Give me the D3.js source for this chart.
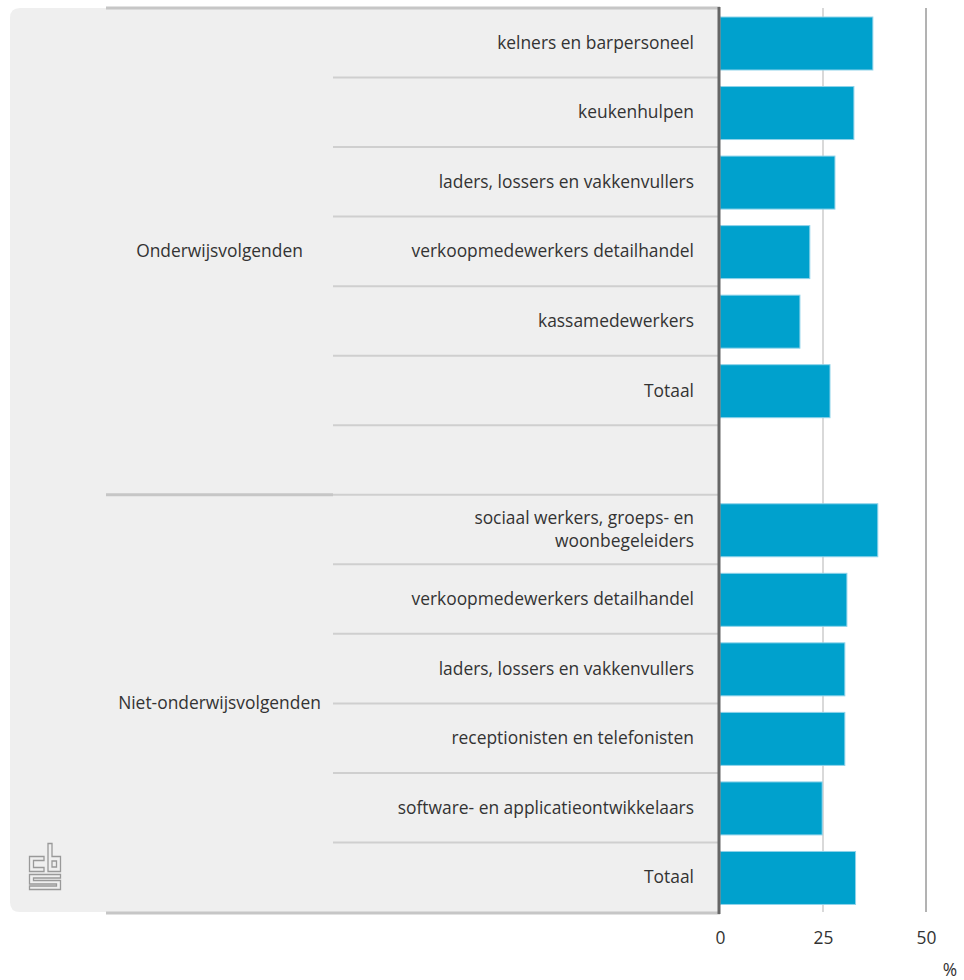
<!DOCTYPE html>
<html><head><meta charset="utf-8">
<script src="https://cdn.jsdelivr.net/npm/d3@7"></script>
<style>body{margin:0;background:#fff;} text{font-family:"Open Sans", "Noto Sans", sans-serif;}</style>
</head><body>
<svg id="chart" width="964" height="980"></svg>
<script>
const groups = ["Onderwijsvolgenden", "Niet-onderwijsvolgenden"];
const categories1 = ["kelners en barpersoneel", "keukenhulpen", "laders, lossers en vakkenvullers", "verkoopmedewerkers detailhandel", "kassamedewerkers", "Totaal"];
const values1 = [37.1, 32.5, 27.9, 21.8, 19.4, 26.7];
const categories2 = ["sociaal werkers, groeps- en woonbegeleiders", "verkoopmedewerkers detailhandel", "laders, lossers en vakkenvullers", "receptionisten en telefonisten", "software- en applicatieontwikkelaars", "Totaal"];
const values2 = [38.3, 30.8, 30.3, 30.3, 24.8, 32.9];
const ticks = [0, 25, 50];
const unitLabel = "%";

(function () {
const svg = d3.select("#chart");
const T = 8, B = 912, axisX = 720, panelLeft = 10, groupColL = 106, catColL = 333;
const FONT = 17.4, TXT = "#333";

const rows = [];
categories1.forEach((c, i) => rows.push({key: "a" + i, group: 0, label: c, value: values1[i]}));
rows.push({key: "gap", group: 0, label: null, value: null});
categories2.forEach((c, i) => rows.push({key: "b" + i, group: 1, label: c, value: values2[i]}));

const y = d3.scaleBand().domain(rows.map(r => r.key)).range([T, B]).paddingInner(0).paddingOuter(0);
const x = d3.scaleLinear().domain([0, 50]).range([axisX, 926]);

// panel
svg.append("path")
  .attr("d", `M${axisX},${T} L${panelLeft+10},${T} Q${panelLeft},${T} ${panelLeft},${T+10} L${panelLeft},${B-10} Q${panelLeft},${B} ${panelLeft+10},${B} L${axisX},${B} Z`)
  .attr("fill", "#efefef");

// gridlines
svg.append("line").attr("x1", x(25)).attr("x2", x(25)).attr("y1", T).attr("y2", B).attr("stroke", "#b3b3b3").attr("stroke-width", 1);
svg.append("line").attr("x1", x(50)).attr("x2", x(50)).attr("y1", T).attr("y2", B).attr("stroke", "#666").attr("stroke-width", 1);

// row separators
rows.forEach((r, i) => {
  if (i === 0) return;
  const yy = y(r.key);
  if (r.key === "b0") {
    svg.append("line").attr("x1", groupColL).attr("x2", catColL).attr("y1", yy).attr("y2", yy).attr("stroke", "#c6c6c6").attr("stroke-width", 3);
  }
  svg.append("line").attr("x1", catColL).attr("x2", axisX).attr("y1", yy).attr("y2", yy).attr("stroke", "#cfcfcf").attr("stroke-width", 2);
});
// top and bottom lines
svg.append("line").attr("x1", groupColL).attr("x2", axisX).attr("y1", T).attr("y2", T).attr("stroke", "#c6c6c6").attr("stroke-width", 3);
svg.append("line").attr("x1", groupColL).attr("x2", axisX).attr("y1", B+1).attr("y2", B+1).attr("stroke", "#c6c6c6").attr("stroke-width", 3);

// bars
const barPadTop = 9, barH = 53;
svg.append("g").selectAll("rect").data(rows.filter(r => r.value !== null)).join("rect")
  .attr("x", x(0))
  .attr("y", d => y(d.key) + barPadTop)
  .attr("width", d => x(d.value) - x(0))
  .attr("height", barH)
  .attr("fill", "#00a1cd")
  .attr("stroke", "#8fd3ea")
  .attr("stroke-width", 1);

// axis line
svg.append("line").attr("x1", axisX - 1).attr("x2", axisX - 1).attr("y1", T - 1).attr("y2", B + 2).attr("stroke", "#666").attr("stroke-width", 3);

// category labels
const labelX = 694;
const lab = svg.append("g").attr("font-size", FONT).attr("fill", TXT).attr("text-anchor", "end");
rows.filter(r => r.label).forEach(r => {
  const cy = y(r.key) + y.bandwidth() / 2;
  if (r.key === "b0") {
    const t = lab.append("text").attr("x", labelX).attr("y", cy);
    t.append("tspan").attr("x", labelX).attr("dy", "-0.3em").text("sociaal werkers, groeps- en");
    t.append("tspan").attr("x", labelX).attr("dy", "1.3em").text("woonbegeleiders");
  } else {
    lab.append("text").attr("x", labelX).attr("y", cy).attr("dy", "0.35em").text(r.label);
  }
});

// group labels
const g0 = [y("a0"), y("b0")], g1 = [y("b0"), B];
[g0, g1].forEach((g, i) => {
  svg.append("text").attr("x", (groupColL + catColL) / 2).attr("y", (g[0] + g[1]) / 2).attr("dy", "0.35em")
    .attr("text-anchor", "middle").attr("font-size", FONT).attr("fill", TXT).text(groups[i]);
});

// x axis ticks
const ax = svg.append("g").attr("transform", `translate(0,${B})`)
  .call(d3.axisBottom(x).tickValues(ticks).tickSize(0).tickPadding(20));
ax.select(".domain").remove();
ax.selectAll("text").attr("font-size", FONT).attr("fill", TXT).style("font-family", "'Open Sans', sans-serif");
svg.append("text").attr("x", 950).attr("y", 976).attr("text-anchor", "middle").attr("font-size", FONT).attr("fill", TXT).text(unitLabel);

// CBS logo
const logo = svg.append("g").attr("transform", "translate(29,843)").attr("fill", "none").attr("stroke", "#999").attr("stroke-width", 1.3);
logo.append("path").attr("d", "M15,13.5 H0.5 V28.5 H15 V24.5 H4.5 V17.5 H15 Z");
logo.append("path").attr("d", "M19,0.5 H23 V13.5 H31.5 V28.5 H19 Z M23,18 H27.5 V24 H23 Z");
logo.append("path").attr("d", "M0.5,31.5 H31.5 V35 H4.5 V37.5 H31.5 V46.5 H0.5 V43 H27.5 V41 H0.5 Z");
})();
</script>
</body></html>
